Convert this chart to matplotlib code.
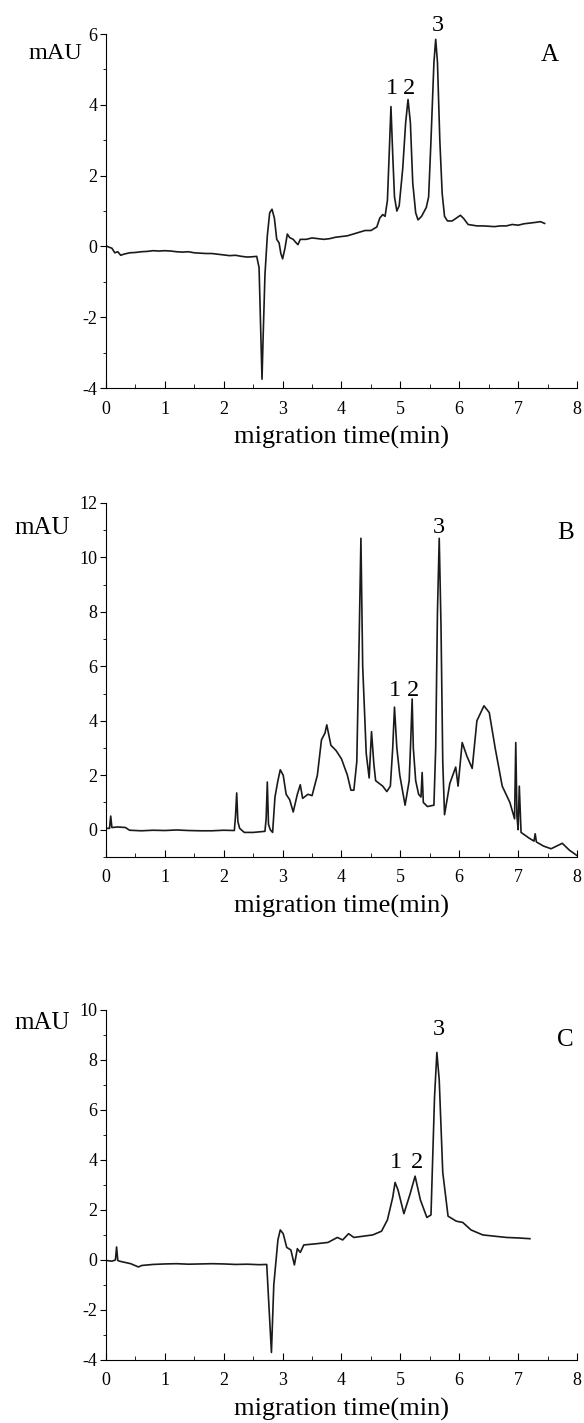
import matplotlib
matplotlib.use("Agg")
import matplotlib.pyplot as plt
from matplotlib.ticker import MultipleLocator

plt.rcParams['font.family'] = ['Liberation Serif', 'DejaVu Serif']
plt.rcParams['axes.unicode_minus'] = False

# ---------------- data ----------------
time_A = [0.00, 0.05, 0.10, 0.15, 0.20, 0.25, 0.30, 0.40, 0.50, 0.60, 0.70, 0.80, 0.90,
          1.00, 1.10, 1.20, 1.30, 1.40, 1.50, 1.60, 1.70, 1.80, 1.90, 2.00, 2.10, 2.20,
          2.30, 2.40, 2.50, 2.56, 2.60, 2.63, 2.65, 2.67, 2.70, 2.74,
          2.78, 2.82, 2.86, 2.90, 2.94, 2.97, 3.00, 3.04, 3.08, 3.12, 3.18, 3.22, 3.26,
          3.30, 3.40, 3.50, 3.60, 3.70, 3.80, 3.90, 4.00, 4.10, 4.20, 4.30, 4.40, 4.50,
          4.60, 4.65, 4.70, 4.74, 4.78,
          4.81, 4.84, 4.87, 4.90, 4.94, 4.98, 5.04, 5.09, 5.13, 5.17, 5.21, 5.26, 5.30,
          5.36, 5.44, 5.48, 5.52, 5.57, 5.60, 5.63, 5.67, 5.71, 5.75, 5.80, 5.88, 5.95,
          6.02, 6.08, 6.15, 6.30, 6.40, 6.50, 6.60, 6.70, 6.80, 6.90, 7.00, 7.10, 7.20,
          7.30, 7.38, 7.45]
mau_A = [0.02, -0.02, -0.05, -0.18, -0.15, -0.25, -0.22, -0.18, -0.17, -0.15, -0.14, -0.12,
         -0.13, -0.12, -0.13, -0.15, -0.16, -0.15, -0.18, -0.19, -0.20, -0.20, -0.22, -0.24,
         -0.26, -0.25, -0.28, -0.30, -0.29, -0.28, -0.6, -2.5, -3.75, -2.5,
         -0.8, 0.3, 0.95, 1.05, 0.8, 0.2, 0.1, -0.2, -0.35, -0.05, 0.35, 0.25, 0.2, 0.12,
         0.05, 0.2, 0.2, 0.24, 0.22, 0.20, 0.22, 0.26, 0.28, 0.30, 0.35, 0.40, 0.45, 0.45,
         0.55, 0.8, 0.9, 0.85, 1.3,
         2.6, 3.95, 2.6, 1.4, 1.0, 1.15, 2.2, 3.5, 4.15, 3.5, 1.8, 0.95, 0.75, 0.85, 1.1,
         1.4, 3.0, 5.2, 5.85, 5.2, 3.0, 1.5, 0.85, 0.72, 0.72, 0.8, 0.88, 0.78, 0.62, 0.58,
         0.58, 0.57, 0.56, 0.58, 0.58, 0.62, 0.60, 0.64, 0.66, 0.68, 0.70, 0.65]

time_B = [0.00, 0.06, 0.08, 0.10, 0.20, 0.33, 0.40, 0.60, 0.80, 1.00, 1.20, 1.40, 1.60,
          1.80, 2.00, 2.18, 2.20,
          2.22, 2.24, 2.27, 2.35, 2.50, 2.70, 2.72, 2.74, 2.76, 2.79, 2.83, 2.87, 2.92,
          2.96, 3.01, 3.06, 3.12, 3.18, 3.25, 3.30, 3.34, 3.43, 3.50, 3.59, 3.66, 3.72,
          3.75, 3.82, 3.91, 4.00, 4.10, 4.16, 4.21, 4.26, 4.30, 4.33, 4.36, 4.42, 4.47,
          4.51, 4.55, 4.58, 4.70, 4.77, 4.83, 4.87, 4.90, 4.94, 4.99, 5.08, 5.15, 5.18,
          5.20, 5.22, 5.26, 5.31, 5.35, 5.37, 5.39, 5.46, 5.57, 5.60, 5.63, 5.66, 5.69,
          5.72, 5.75, 5.84, 5.94, 5.98, 6.05, 6.13, 6.22, 6.30, 6.42, 6.51, 6.61, 6.73,
          6.86, 6.94, 6.96, 6.98, 7.00, 7.02, 7.05, 7.18, 7.27, 7.29, 7.31, 7.43, 7.56,
          7.75, 7.87, 8.00]
mau_B = [0.05, 0.05, 0.5, 0.08, 0.1, 0.08, -0.02, -0.04, -0.02, -0.03, -0.01, -0.03, -0.04,
         -0.04, -0.02, -0.03, 0.5,
         1.35, 0.3, 0.05, -0.1, -0.1, -0.06, 0.4, 1.75, 0.2, 0.0, -0.1, 1.2, 1.8, 2.2, 2.0,
         1.3, 1.1, 0.65, 1.3, 1.65, 1.15, 1.3, 1.25, 2.0, 3.3, 3.55, 3.85, 3.1, 2.9, 2.6,
         2.0, 1.45, 1.45, 2.5, 7.0, 10.7, 6.0, 2.8, 1.9, 3.6, 2.4, 1.8, 1.6, 1.4, 1.6, 3.0,
         4.5, 3.0, 2.0, 0.9, 1.8, 3.5, 4.8, 3.0, 1.8, 1.3, 1.2, 2.1, 1.0, 0.85, 0.9, 3.0,
         8.0, 10.7, 7.5, 2.5, 0.55, 1.7, 2.3, 1.6, 3.2, 2.7, 2.25, 4.0, 4.55, 4.3, 3.0,
         1.6, 1.0, 0.4, 3.2, 0.5, 0.0, 1.6, -0.1, -0.3, -0.42, -0.15, -0.45, -0.6, -0.7,
         -0.5, -0.75, -0.95]

time_C = [0.00, 0.10, 0.16, 0.18, 0.20, 0.23, 0.42, 0.55, 0.61, 0.80, 1.00, 1.20, 1.40,
          1.60, 1.80, 2.00, 2.20, 2.40, 2.60, 2.73, 2.76, 2.81, 2.85, 2.92, 2.96, 3.01,
          3.07, 3.14, 3.20, 3.25, 3.30, 3.36, 3.58, 3.77, 3.93, 4.02, 4.12, 4.21, 4.53,
          4.68, 4.78, 4.87, 4.91, 4.96, 5.06, 5.16, 5.25, 5.34, 5.45, 5.52, 5.58, 5.62,
          5.66, 5.72, 5.81, 5.95, 6.06, 6.20, 6.40, 6.60, 6.80, 7.00, 7.20]
mau_C = [-0.02, -0.05, 0.0, 0.52, -0.02, -0.05, -0.15, -0.28, -0.22, -0.18, -0.16, -0.15,
         -0.17, -0.16, -0.15, -0.16, -0.18, -0.17, -0.19, -0.18, -1.5, -3.7, -1.0, 0.8,
         1.2, 1.05, 0.5, 0.4, -0.2, 0.45, 0.3, 0.6, 0.65, 0.7, 0.9, 0.8, 1.05, 0.9, 1.0,
         1.15, 1.6, 2.5, 3.1, 2.8, 1.85, 2.6, 3.35, 2.4, 1.7, 1.8, 6.5, 8.3, 7.2, 3.5,
         1.75, 1.55, 1.5, 1.2, 1.0, 0.95, 0.9, 0.88, 0.85]

panels = ["A", "B", "C"]
times = [time_A, time_B, time_C]
values = [mau_A, mau_B, mau_C]
ylims = [(-4, 6), (-1, 12), (-4, 10)]
peak_names = ["1", "2", "3"]
peak_pos_A = [(4.86, 4.47), (5.15, 4.47), (5.64, 6.25)]
peak_pos_B = [(4.90, 5.1), (5.21, 5.1), (5.66, 11.1)]
peak_pos_C = [(4.92, 3.9), (5.28, 3.9), (5.65, 9.2)]
peak_pos = [peak_pos_A, peak_pos_B, peak_pos_C]
letter_pos = [(7.54, 5.4), (7.8, 10.9), (7.8, 8.8)]

# ---------------- figure ----------------
fig = plt.figure(figsize=(5.84, 14.23), dpi=100)
rects = [[0.1815, 0.7273, 0.8065, 0.2488],
         [0.1815, 0.3978, 0.8065, 0.2488],
         [0.1815, 0.0443, 0.8065, 0.2460]]
mau_xy = [(-0.108, 0.946), (-0.136, 0.929), (-0.135, 0.963)]
mau_size = [17.5, 18, 18]

for i in range(3):
    ax = fig.add_axes(rects[i])
    ax.plot(times[i], values[i], color='#1a1a1a', lw=1.2)
    ax.set_xlim(0, 8)
    ax.set_ylim(*ylims[i])
    ax.spines['top'].set_visible(False)
    ax.spines['right'].set_visible(False)
    ax.xaxis.set_major_locator(MultipleLocator(1))
    ax.xaxis.set_minor_locator(MultipleLocator(0.5))
    ax.yaxis.set_major_locator(MultipleLocator(2))
    ax.yaxis.set_minor_locator(MultipleLocator(1))
    ax.tick_params(axis='x', which='major', direction='in', length=5, labelsize=13, pad=9)
    ax.tick_params(axis='x', which='minor', direction='in', length=3)
    ax.tick_params(axis='y', which='major', direction='out', length=4, labelsize=13, pad=2)
    ax.tick_params(axis='y', which='minor', direction='out', length=2.5)
    ax.set_xlabel('migration time(min)', fontsize=19, labelpad=6)
    ax.text(mau_xy[i][0], mau_xy[i][1], 'mAU', transform=ax.transAxes,
            ha='center', va='center', fontsize=mau_size[i])
    ax.text(letter_pos[i][0], letter_pos[i][1], panels[i], ha='center', va='center', fontsize=18)
    for name, (px, py) in zip(peak_names, peak_pos[i]):
        ax.text(px, py, name, ha='center', va='center', fontsize=17.5, clip_on=False)

fig.savefig('out.png', dpi=100)
